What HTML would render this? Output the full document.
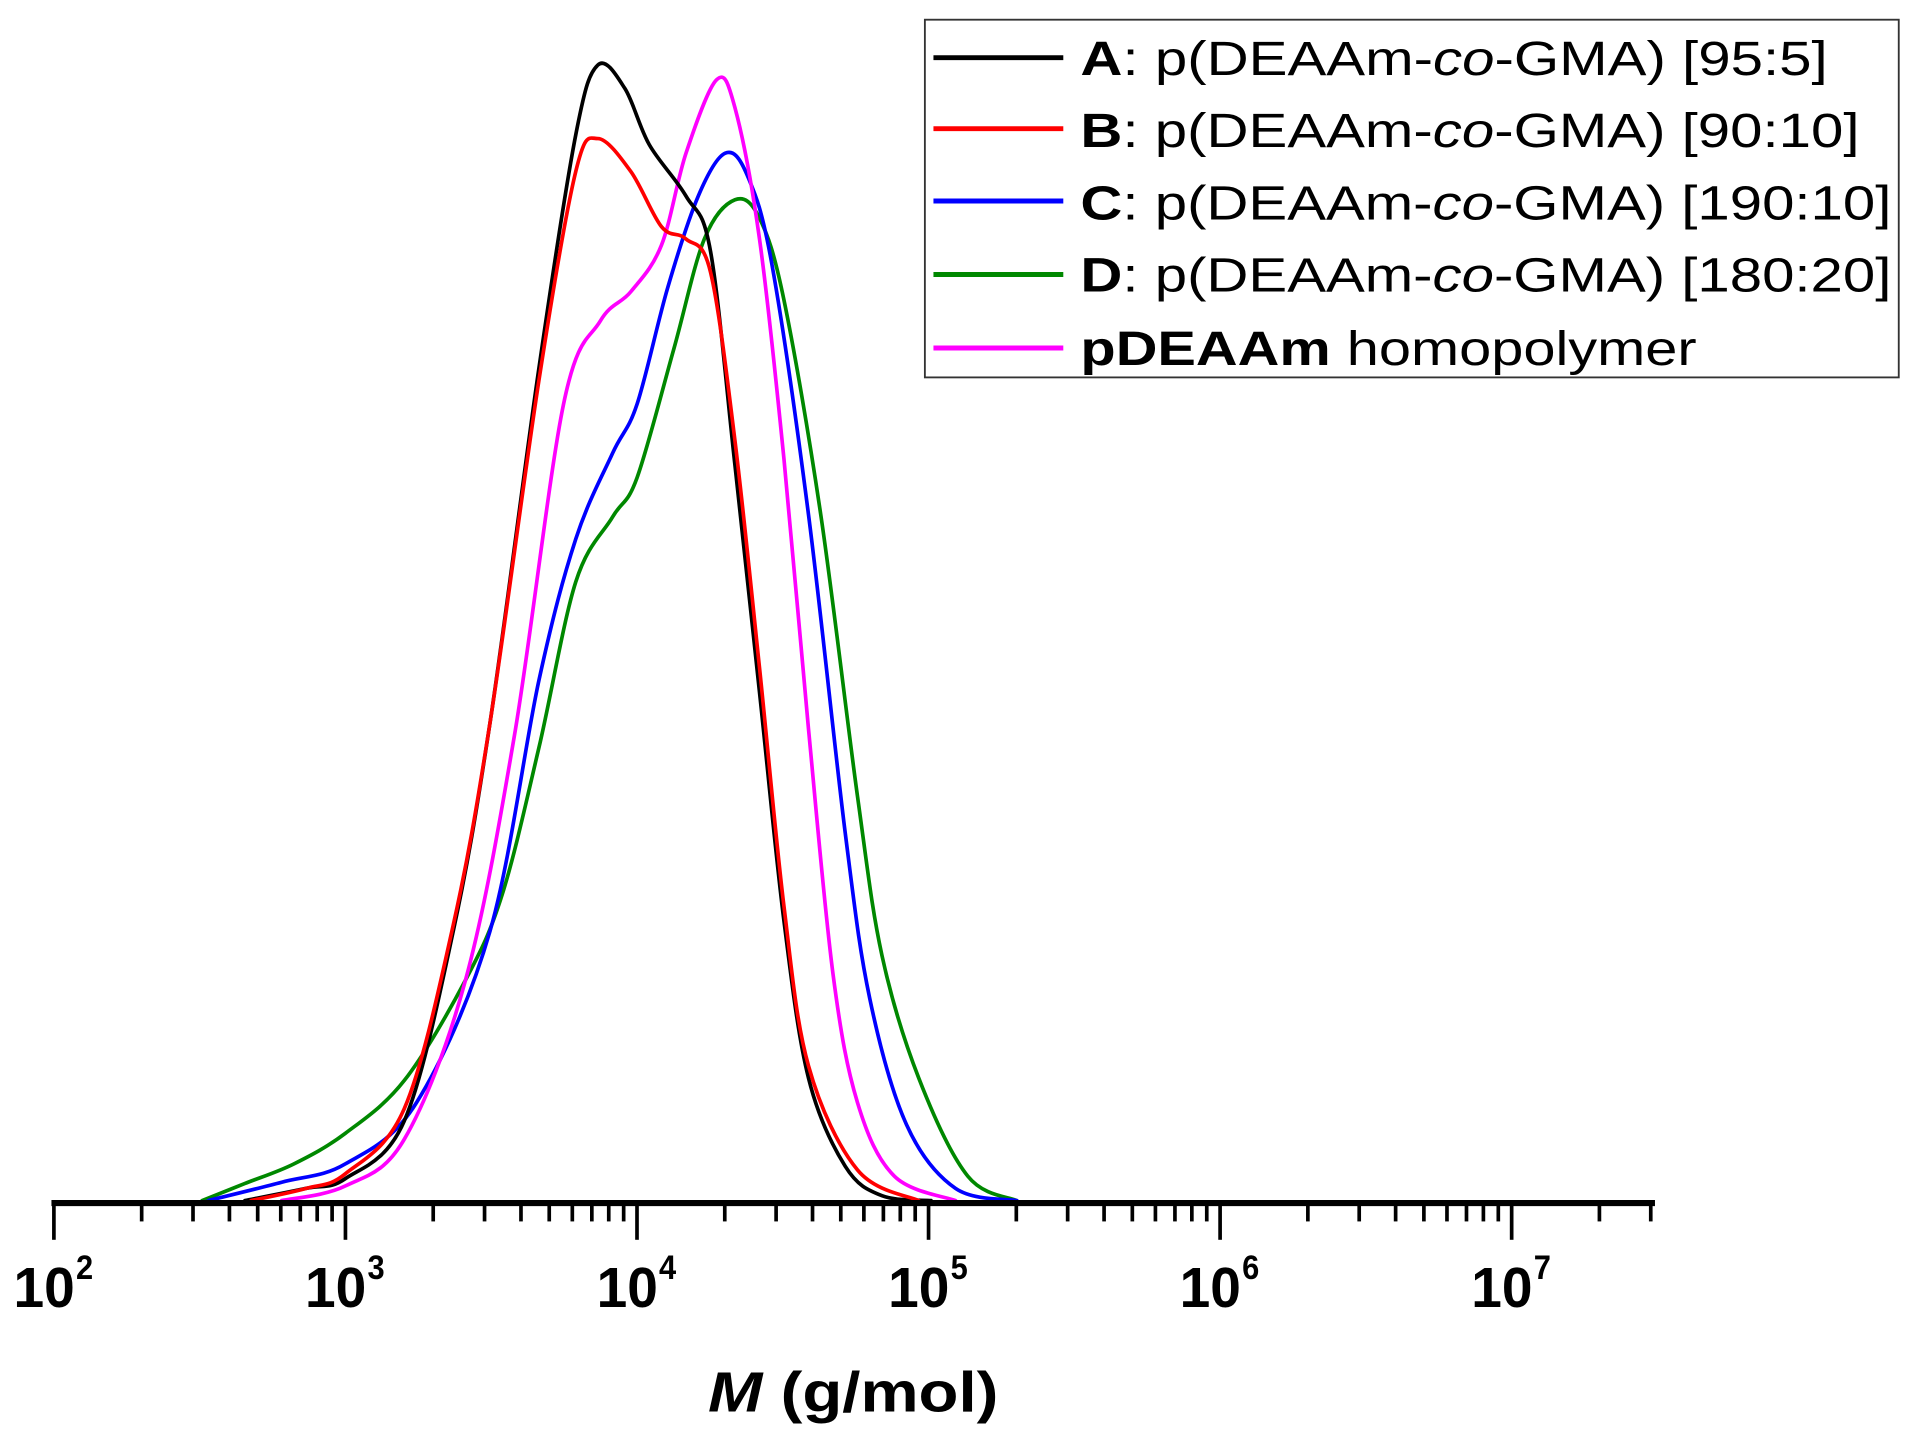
<!DOCTYPE html>
<html><head><meta charset="utf-8"><style>
html,body{margin:0;padding:0;background:#fff;}
svg{display:block;}
text{font-family:"Liberation Sans",Arial,sans-serif;}
</style></head><body>
<svg id="s" width="1911" height="1431" viewBox="0 0 1560 1168" xmlns="http://www.w3.org/2000/svg">
<rect x="0" y="0" width="1560" height="1168" fill="#fff"/>
<g id="curves" fill="none" stroke-width="3" stroke-linejoin="round" stroke-linecap="round"></g>
<line x1="42" y1="982" x2="1351" y2="982" stroke="#000" stroke-width="5"/>
<g id="ticks" stroke="#000" stroke-width="3"></g>
<g id="labels" font-weight="bold"></g>
<text x="578" y="1152" font-size="46" font-weight="bold" textLength="237" lengthAdjust="spacingAndGlyphs"><tspan font-style="italic">M</tspan> (g/mol)</text>
<rect x="755" y="16" width="795" height="292" fill="#fff" stroke="#333" stroke-width="1.5"/>
<g stroke-width="4">
<line x1="762" y1="47" x2="868" y2="47" stroke="#000"/>
<line x1="762" y1="105" x2="868" y2="105" stroke="#f00"/>
<line x1="762" y1="164" x2="868" y2="164" stroke="#00f"/>
<line x1="762" y1="224" x2="868" y2="224" stroke="#080"/>
<line x1="762" y1="284" x2="868" y2="284" stroke="#f0f"/>
</g>
<g font-size="39">
<text x="882" y="61" textLength="610" lengthAdjust="spacingAndGlyphs"><tspan font-weight="bold">A</tspan>: p(DEAAm-<tspan font-style="italic">co</tspan>-GMA) [95:5]</text>
<text x="882" y="120" textLength="636" lengthAdjust="spacingAndGlyphs"><tspan font-weight="bold">B</tspan>: p(DEAAm-<tspan font-style="italic">co</tspan>-GMA) [90:10]</text>
<text x="882" y="179" textLength="662" lengthAdjust="spacingAndGlyphs"><tspan font-weight="bold">C</tspan>: p(DEAAm-<tspan font-style="italic">co</tspan>-GMA) [190:10]</text>
<text x="882" y="238" textLength="662" lengthAdjust="spacingAndGlyphs"><tspan font-weight="bold">D</tspan>: p(DEAAm-<tspan font-style="italic">co</tspan>-GMA) [180:20]</text>
<text x="882" y="298" textLength="503" lengthAdjust="spacingAndGlyphs"><tspan font-weight="bold">pDEAAm</tspan> homopolymer</text>
</g>
</svg>
<script>
var NS="http://www.w3.org/2000/svg";
function dec(x){return 44+(x-2)*238;}
var t=document.getElementById("ticks");
for(var d=2;d<=7;d++){for(var k=1;k<=9;k++){var lg=d+Math.log10(k);var x=dec(lg);if(x>1351)break;
var l=document.createElementNS(NS,"line");l.setAttribute("x1",x);l.setAttribute("x2",x);l.setAttribute("y1",982);l.setAttribute("y2",k==1?1012:997);t.appendChild(l);}}
var lb=document.getElementById("labels");
for(var d=2;d<=7;d++){var x=dec(d);
var a=document.createElementNS(NS,"text");a.setAttribute("x",x-33);a.setAttribute("y",1067);a.setAttribute("font-size","46");a.setAttribute("textLength","50");a.setAttribute("lengthAdjust","spacingAndGlyphs");a.textContent="10";lb.appendChild(a);
var b=document.createElementNS(NS,"text");b.setAttribute("x",x+18);b.setAttribute("y",1044);b.setAttribute("font-size","28");b.setAttribute("textLength","14");b.setAttribute("lengthAdjust","spacingAndGlyphs");b.textContent=""+d;lb.appendChild(b);}
function path(p){var s="M"+p[0][0]+","+p[0][1];for(var i=0;i<p.length-1;i++){var p0=p[i-1]||p[i],p1=p[i],p2=p[i+1],p3=p[i+2]||p2;
s+=" C"+(p1[0]+(p2[0]-p0[0])/6)+","+(p1[1]+(p2[1]-p0[1])/6)+" "+(p2[0]-(p3[0]-p1[0])/6)+","+(p2[1]-(p3[1]-p1[1])/6)+" "+p2[0]+","+p2[1];}return s;}
var C=[
["#080",[[165,980],[200,966],[240,950],[282,925],[330,882],[380,800],[410,730],[440,610],[470,475],[500,422],[520,390],[550,285],[575,195],[600,163],[620,178],[640,245],[670,420],[700,650],[720,780],[750,880],[790,960],[830,980]]],
["#00f",[[170,980],[230,965],[282,950],[340,900],[400,760],[440,555],[470,440],[500,370],[520,330],[545,235],[570,160],[592,125],[610,143],[630,215],[660,420],[690,680],[710,815],[740,918],[780,970],[830,980]]],
["#f0f",[[230,980],[282,968],[330,930],[380,800],[420,600],[460,330],[490,262],[515,238],[540,200],[560,125],[585,65],[600,88],[620,195],[640,375],[660,595],[680,795],[700,900],[730,960],[780,980]]],
["#000",[[200,980],[250,970],[282,962],[330,915],[370,760],[400,590],[440,300],[470,110],[488,53],[510,72],[530,118],[560,160],[580,205],[600,380],[620,565],[640,752],[660,880],[690,952],[720,976],[760,980]]],
["#f00",[[205,980],[250,970],[282,958],[330,905],[370,755],[400,590],[440,310],[470,140],[488,113],[515,140],[540,185],[560,195],[580,222],[600,360],[620,545],[640,740],[660,870],[700,955],[750,980]]]
];
var g=document.getElementById("curves");
C.forEach(function(c){var p=document.createElementNS(NS,"path");p.setAttribute("d",path(c[1]));p.setAttribute("stroke",c[0]);g.appendChild(p);});
</script>
</body></html>
